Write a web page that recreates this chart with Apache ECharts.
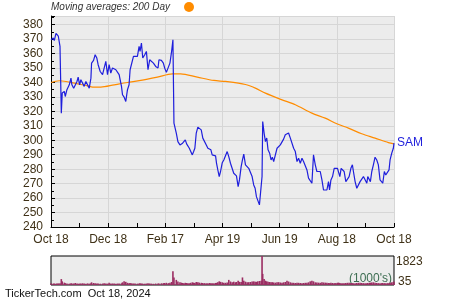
<!DOCTYPE html>
<html><head><meta charset="utf-8">
<script src="https://cdn.jsdelivr.net/npm/echarts@6/dist/echarts.min.js"></script>
<style>html,body{margin:0;padding:0;background:#fff}#c{width:450px;height:300px}</style>
</head><body><div id="c"></div>
<script>
// x labels (dates) at day offsets 0,61,...,366 from Oct 18, 2023
const xLabels = ['Oct 18','Dec 18','Feb 17','Apr 19','Jun 19','Aug 18','Oct 18'];
// day offset of each price point
const days = [
0,2.4,3.5,5.3,6.4,7.8,9.6,11,12,14.2,
15.2,17,19.5,21.3,22.3,24.2,25.9,27.7,29,30.5,
31.9,33.7,35.4,37.2,39,40.8,42.6,43.3,45.4,47.1,
48.9,50.3,52.5,55,56.7,58.5,60.3,62,63.8,65.6,
67.4,69.2,71,72.7,75.2,76.3,78,79.8,81.6,83.3,
84.4,86.2,88,89.7,92.2,94,95,96.5,97.9,100,
101.8,103.5,105.3,107.1,109.3,111.7,114.2,115.2,117.8,119.9,
121.3,123.1,125.2,126.9,128.7,130.1,131.2,133.7,135.4,137.6,
139.1,140.4,141.8,143.3,144.7,146.1,147.6,149,150.8,152.2,
153.5,155,156.7,158.2,160.3,162,163.9,165.7,167.4,169.2,
170.6,172,173.8,175.6,176.6,178,179.5,180.9,182.7,184.4,
186.2,188,189.7,191.5,193.3,195,196.8,197.9,199.7,201.1,
202.9,204.3,205.7,207.5,209.3,211,212.8,214.6,216.3,217.8,
219.2,220.6,222.4,224.2,225.2,225.9,227.4,228.8,230.2,231.6,
233.3,234.8,236.2,237.6,239.4,241.2,242.9,244.7,246.5,248.2,
250,251.8,253.5,255.4,257.2,258.9,260.7,262.5,264.2,266,
267.8,269.5,271.3,273.1,274.8,276.6,278.4,280.1,282,283.7,
285.5,287.3,289.1,290.8,292.6,294.4,296.1,297.2,298.7,300.4,
302.2,304,305.7,306.8,308.2,309.6,311.4,312.8,314.6,316.3,
318.1,320,321.6,322.7,324.5,326.3,328,329.8,331.6,333.4,
335.2,337,338,339.7,340.8,342.3,344,345.8,347.6,349.3,
351.1,352.9,354,355.7,357.2,358.9,360.7,361.8,363.6,365.3,
366];
const close = [
369.6,370.8,369,374,375,372,365,318.8,332.7,333.8,
330.3,335,338.4,343,338.4,336,335.9,340.7,343.7,338.4,
341.9,343,337.3,340.7,341.9,336.1,343,353.4,355.3,359.2,
356.9,352.3,347.6,345.4,350,354.6,345.4,352.3,346.5,350,
348.8,348.8,347.6,345.4,337.3,331.5,329.9,326.9,335,338.4,
348.8,347.6,358,356.9,358,365,361.5,367.3,356.9,359.2,
361.5,348.8,355.7,355.7,353.4,351.1,350,355.7,355.3,353.4,
350,347,348.3,353.4,361.5,369.6,311.9,305,299.1,296.8,
295.7,298,297.5,300.3,297.5,298.4,294.5,294.5,289.9,292.2,
294.5,305,309.1,309.5,307.2,301.5,300.3,296.8,294.5,295.2,
293.4,289.9,289.9,289.2,284.2,279.5,274.9,278.4,284.4,286.4,
287.6,292.2,288.7,284.1,285.3,277.2,278.4,275.4,268,272.6,
281.8,286.4,290.4,283,284.1,280.6,279.5,274.9,269.1,266.8,
261,259.9,255.3,255.3,274.9,313,305,299.1,301.6,293.4,
291.1,286.4,288.3,285.3,285.3,294.5,295.7,296.8,298,300.8,
303.8,302.6,305,301.5,300.3,294.5,292.2,285.3,287.6,284.1,
287.6,285.3,285.3,279.5,273.8,272.6,270.3,289.9,283,278.4,
279.5,278.4,272.6,265.6,264.5,265.6,271.4,265.6,272.6,274.9,
280.6,281.8,280.6,281.8,274.9,280.6,279.5,278.4,271.4,270.3,
274.9,280.6,283,278.4,271.4,266.8,268,271.4,272.6,274.9,
274.4,270.3,274.9,274.4,271.4,278.4,283,288.3,286.4,283,
272.6,271.4,270.3,278.4,276,277.2,279.5,286.4,291.1,294.5,
298];
// volume (1000's) per price point
const volume = [
140,120,130,110,125,135,150,400,260,180,
150,130,120,140,125,130,160,120,110,125,
130,140,120,115,135,120,150,200,160,140,
130,120,115,125,140,130,120,170,125,130,
120,110,125,130,140,200,260,230,170,150,
160,140,130,125,120,135,150,130,120,115,
125,140,130,120,110,125,130,135,140,150,
160,170,150,180,220,880,500,350,250,200,
180,160,150,170,160,150,140,170,200,180,
160,220,200,180,170,160,150,140,150,160,
150,140,150,160,170,200,260,230,200,180,
170,190,350,250,200,240,200,220,300,230,
220,500,300,240,200,210,220,250,260,240,
230,260,280,300,1823,720,400,300,260,240,
220,200,210,190,180,200,210,190,180,200,
220,300,250,200,180,170,160,180,170,160,
150,160,170,180,200,260,300,260,200,190,
180,170,200,190,180,170,160,150,170,160,
150,160,170,180,160,150,140,150,160,170,
180,160,150,140,150,160,170,180,160,150,
140,150,160,170,180,190,200,170,160,150,
140,150,160,150,140,150,160,170,200,220,
250];
// 200-day moving average
const maDays = [0,8.8,16,28.4,39,44.4,53.2,67.4,81.6,95.8,113.5,129.5,138.3,156.1,173.8,186.2,207.5,218.1,228.8,246.5,260.7,278.4,292.6,305,317.4,331.6,345.8,360,366];
const maVals = [340,341.2,340.7,339,337.7,336.8,336.8,338.4,340,341.4,343.7,346,346,343.7,341.4,340.7,338.6,336.1,332.6,328,324.6,318.8,315.3,311.4,308.4,304.5,301.5,298.4,297.5];
const yTicks = {min:240, max:386, step:10};
const volRange = {min:35, max:1823};

const chart = echarts.init(document.getElementById('c'), null, {renderer:'canvas'});
const lab = '#3f3117';
const FONT = '"Liberation Sans", Arial, sans-serif';
chart.setOption({
  animation:false,
  textStyle:{fontFamily:FONT},
  grid:[
    {left:51, top:16, width:343, height:211, show:true, backgroundColor:'#ececec', borderWidth:0},
    {left:51, top:256, width:343, height:29, show:true, backgroundColor:'#ececec', borderColor:'#000', borderWidth:1}
  ],
  xAxis:[
    {type:'value', gridIndex:0, min:0, max:366, interval:61,
     axisLine:{show:true, lineStyle:{color:'#000', width:1}},
     axisTick:{show:true, inside:true, length:4, lineStyle:{color:'#000'}},
     minorTick:{show:true, splitNumber:2, length:4, lineStyle:{color:'#000'}},
     splitLine:{show:true, lineStyle:{color:'#d6d6d6', width:1}},
     axisLabel:{color:lab, fontSize:12, margin:7, fontFamily:FONT,
       formatter:v=>xLabels[Math.round(v/61)]||''}},
    {type:'value', gridIndex:1, min:0, max:366, show:false}
  ],
  yAxis:[
    {type:'value', gridIndex:0, min:yTicks.min, max:yTicks.max, interval:yTicks.step,
     axisLine:{show:true, lineStyle:{color:'#000', width:1}},
     axisTick:{show:true, inside:true, length:4, lineStyle:{color:'#000'}},
     minorTick:{show:true, splitNumber:2, length:3, lineStyle:{color:'#000'}},
     splitLine:{show:true, lineStyle:{color:'#d6d6d6', width:1}},
     axisLabel:{color:lab, fontSize:12, margin:8, showMaxLabel:false, fontFamily:FONT}},
    {type:'value', gridIndex:1, min:volRange.min, max:volRange.max, show:false}
  ],
  series:[
    {type:'line', xAxisIndex:0, yAxisIndex:0, data:maDays.map((d,i)=>[d,maVals[i]]),
     showSymbol:false, smooth:0.3, lineStyle:{color:'#ff8c00', width:1.2}, z:2},
    {type:'line', xAxisIndex:0, yAxisIndex:0, data:days.map((d,i)=>[d,close[i]]),
     showSymbol:false, lineStyle:{color:'#1f1fdc', width:1.2}, z:3,
     endLabel:{show:true, formatter:'SAM', color:'#1f1fdc', fontSize:12, distance:3, fontFamily:FONT}},
    {type:'bar', xAxisIndex:1, yAxisIndex:1, data:days.map((d,i)=>[d,volume[i]]),
     barWidth:1.6, itemStyle:{color:'#9b2d62'}, large:false}
  ],
  graphic:[
    {type:'text', left:51, top:2, style:{text:'Moving averages: 200 Day', font:'italic 10px '+FONT, fill:'#333'}},
    {type:'circle', shape:{cx:189, cy:7, r:5}, style:{fill:'#ff8c00'}},
    {type:'text', left:396, top:256, style:{text:String(volRange.max), font:'12px '+FONT, fill:lab}},
    {type:'text', left:398, top:276, style:{text:String(volRange.min), font:'12px '+FONT, fill:lab}},
    {type:'text', right:58, top:273, style:{text:"(1000's)", font:'12px '+FONT, fill:'#3d6e52'}},
    {type:'text', left:5, top:288, style:{text:'TickerTech.com  Oct 18, 2024', font:'11px '+FONT, fill:'#111'}}
  ]
});
</script></body></html>
